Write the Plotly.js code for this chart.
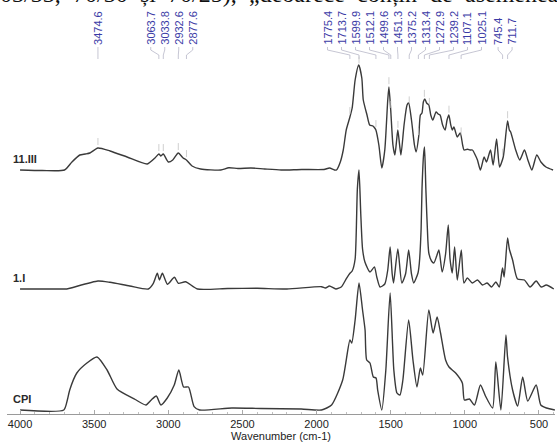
<!DOCTYPE html>
<html><head><meta charset="utf-8">
<script src="https://cdn.plot.ly/plotly-3.0.1.min.js"></script>
<style>html,body{margin:0;padding:0;background:#fff}#chart{width:557px;height:443px}</style>
</head><body><div id="chart"></div>
<script>
// ---------------- data ----------------
const wn_11III = [4000,3850,3700,3650,3597,3560,3529,3475,3393,3278,3142,3090,3064,3050,3034,3000,2970,2933,2900,2878,2840,2782,2646,2592,2530,2443,2350,2239,2100,1950,1913,1880,1866,1840,1820,1800,1777,1760,1740,1716,1695,1685,1660,1642,1620,1608,1600,1580,1560,1540,1520,1512,1500,1485,1472,1460,1452,1440,1431,1410,1390,1379,1360,1340,1329,1311,1300,1289,1280,1270,1258,1243,1230,1216,1194,1180,1167,1150,1133,1120,1108,1095,1085,1074,1051,1031,1015,1006,983,965,949,930,915,895,870,854,827,809,786,766,741,712,700,691,657,630,598,575,548,515,487,453,405];
const ab_11III = [0,-0.5,0,8,15,16,17,22,19,13,6,12,16,14,16,8,10,17,12,10,4,1,0,2.3,1.5,2,1,0,0.5,0.5,2,0,0,8,20,40,52,62,90,105,92,70,55,45,44,42,40,25,2,20,70,83,60,25,15,30,40,25,15,45,65,67,50,25,18,34,55,57,68,71,67,65,55,50,58,56,55,45,40,50,55,45,40,43,33,37,25,20,20.7,20,20,15,10,0,13,8,20,5,31,3,13,49,40,38,20,10,20,10,0,15,8,3,0];

const wn_1I = [4000,3700,3685,3475,3393,3260,3135,3101,3074,3060,3040,3006,2959,2932,2884,2803,2600,2400,2200,1967,1940,1913,1870,1832,1798,1775,1760,1740,1725,1714,1702,1690,1674,1640,1610,1594,1572,1540,1520,1504,1490,1481,1452,1425,1400,1379,1360,1345,1316,1307,1295,1289,1278,1272,1263,1250,1243,1225,1209,1190,1175,1153,1130,1112,1100,1085,1069,1051,1024,1006,983,950,915,881,850,820,791,768,746,735,712,700,678,645,598,560,519,485,451,400];
const ab_1I = [0,0,0,8,6.7,3,0,5.7,15.7,9,15.7,4.7,11.7,5.7,7.3,0,0.5,0.7,0,2.3,1,3,0,2.3,10.7,15.7,18,30,100,119,75,40,27,17,22,12,2,5,19,42,15,6,40,6,15,39,15,6,16,26,60,100,135,142,100,50,36,28,26,33,39,17,35,64,30,16,42,9,39,6,11,6,9,4,6,2,7,2,21,12,51,40,29,10,9,2,8,2,4,0];

const wn_CPI = [4000,3705,3681,3665,3617,3549,3481,3413,3346,3223,3151,3115,3081,3050,3007,2960,2929,2897,2864,2826,2789,2571,2375,2103,1967,1899,1824,1775,1763,1740,1714,1690,1673,1662,1640,1617,1599,1588,1560,1533,1504,1479,1458,1438,1418,1379,1350,1323,1300,1284,1243,1214,1187,1164,1130,1107,1062,1017,1003,969,935,895,861,813,791,757,723,712,678,644,610,576,519,488,450,393];
const ab_CPI = [0,0,10,20,37,47,53,40,21,10.5,5,10,14,5,12,25,40,23,23,3.4,0,2,1.5,1,0,5,30,70,67,90,127,100,80,50,47,33,32,20,0,40,117,40,17,15,30,90,50,23,42,35,100,77,93,77,50,43,37,27,10,11,5,25,14,2,48,0,75,53,20,4,33,9,25,5,2,0];

const sampleNames = ['11.III', '1.I', 'CPI'];
const sampleOffsets = [244, 125, 4];

const peakLabels = [3474.6, 3063.7, 3033.8, 2932.6, 2877.6, 1775.4, 1713.7, 1599.9, 1512.1, 1499.6, 1451.3, 1375.2, 1313.4, 1272.9, 1239.2, 1107.1, 1025.1, 745.4, 711.7];

const topWords = ['03/33,', '70/30', 'și', '70/25),', '„deoarece', 'conțin', 'de', 'asemenea'];

// ---------------- geometry helpers ----------------
const W = 557, H = 443;
const M = {l: 7, r: 2, t: 14, b: 29};
const XR = [4088, 392], YR = [0, 400];
const PW = W - M.l - M.r, PH = H - M.t - M.b;
const wnToPx = w => M.l + (XR[0] - w) / (XR[0] - XR[1]) * PW;
const pxToWn = p => XR[0] - (p - M.l) / PW * (XR[0] - XR[1]);
const pyToPaper = p => (H - M.b - p) / PH;
const pxToPaper = p => (p - M.l) / PW;

function interp(xs, ys, x) {
  for (let i = 0; i < xs.length - 1; i++) {
    const a = xs[i], b = xs[i + 1];
    if ((x <= a && x >= b) || (x >= a && x <= b)) {
      const t = (x - a) / (b - a);
      return ys[i] + t * (ys[i + 1] - ys[i]);
    }
  }
  return 0;
}

// spread labels so they don't overlap (cluster merge)
function spread(pxs, gap) {
  let cl = pxs.map(p => ({m: [p], c: p}));
  let changed = true;
  while (changed) {
    changed = false;
    for (let i = 0; i < cl.length - 1; i++) {
      const a = cl[i], b = cl[i + 1];
      const aEnd = a.c + (a.m.length - 1) * gap / 2;
      const bStart = b.c - (b.m.length - 1) * gap / 2;
      if (bStart - aEnd < gap) {
        const m = a.m.concat(b.m);
        cl.splice(i, 2, {m: m, c: m.reduce((s, v) => s + v, 0) / m.length});
        changed = true; break;
      }
    }
  }
  const out = [];
  cl.forEach(k => k.m.forEach((p, j) => out.push(k.c + (j - (k.m.length - 1) / 2) * gap)));
  return out;
}

// ---------------- traces ----------------
const series = [[wn_11III, ab_11III], [wn_1I, ab_1I], [wn_CPI, ab_CPI]];
const traces = series.map((s, i) => ({
  x: s[0],
  y: s[1].map(v => v + sampleOffsets[i]),
  type: 'scatter', mode: 'lines',
  line: {color: '#3a3a3a', width: 1.4, shape: 'spline', smoothing: 0.6},
  hoverinfo: 'skip', showlegend: false
}));

// ---------------- annotations & shapes ----------------
const annotations = [];
const shapes = [];

const peakPx = peakLabels.map(wnToPx);
const labPx = spread(peakPx, 14);
const labelBottom = 46;
peakLabels.forEach((p, i) => {
  annotations.push({
    xref: 'x', yref: 'paper', x: pxToWn(labPx[i]), y: pyToPaper(labelBottom),
    text: p.toFixed(1), textangle: -90, showarrow: false,
    xanchor: 'center', yanchor: 'bottom', borderpad: 0,
    font: {family: 'Arial, Liberation Sans, sans-serif', size: 11, color: '#3b3ba6'}
  });
  const yPap = v => pyToPaper(v);
  shapes.push({
    type: 'path', xref: 'x', yref: 'paper',
    path: `M ${pxToWn(labPx[i])} ${yPap(labelBottom + 1)} L ${pxToWn(labPx[i])} ${yPap(labelBottom + 4)} L ${p} ${yPap(labelBottom + 9)} L ${p} ${yPap(labelBottom + 13)}`,
    line: {color: '#b8b8c8', width: 0.8}
  });
  const top = interp(wn_11III, ab_11III, p) + sampleOffsets[0];
  shapes.push({
    type: 'line', xref: 'x', yref: 'y', x0: p, x1: p, y0: top + 3, y1: top + 10,
    line: {color: '#c4c4c4', width: 0.8}
  });
});

sampleNames.forEach((n, i) => {
  annotations.push({
    xref: 'paper', yref: 'y', x: pxToPaper(11), y: sampleOffsets[i] + 11,
    text: '<b>' + n + '</b>', showarrow: false, xanchor: 'left', yanchor: 'middle',
    font: {family: 'Arial, Liberation Sans, sans-serif', size: 11, color: '#2a2a2a'}
  });
});

// cut-off, justified line of document text at the very top
const topFont = {family: 'Liberation Serif, Times New Roman, serif', size: 24, color: '#111'};
const topY = 8;
const ctx = document.createElement('canvas').getContext('2d');
ctx.font = topFont.size + 'px "Liberation Serif"';
const widths = topWords.map(w => ctx.measureText(w).width);
const lineLeft = -1, lineRight = 557;
const gapW = (lineRight - lineLeft - widths.reduce((s, v) => s + v, 0)) / (topWords.length - 1);
let cursor = lineLeft;
topWords.forEach((w, i) => {
  annotations.push({
    xref: 'paper', yref: 'paper', x: pxToPaper(cursor), y: pyToPaper(topY),
    text: w, showarrow: false, xanchor: 'left', yanchor: 'bottom', borderpad: 0, font: topFont
  });
  cursor += widths[i] + gapW;
});

const layout = {
  width: W, height: H,
  margin: M,
  paper_bgcolor: '#fff', plot_bgcolor: '#fff',
  showlegend: false,
  xaxis: {
    range: XR, showgrid: false, zeroline: false,
    showline: true, linecolor: '#9a9a9a', linewidth: 1,
    ticks: 'inside', ticklen: 4, tickcolor: '#aaa', tickwidth: 1,
    tick0: 0, dtick: 500,
    tickfont: {family: 'Arial, Liberation Sans, sans-serif', size: 11, color: '#222'},
    minor: {dtick: 100, ticks: 'inside', ticklen: 2.5, tickcolor: '#c0c0c0', showgrid: false},
    title: {text: 'Wavenumber (cm-1)', standoff: 1, font: {family: 'Arial, Liberation Sans, sans-serif', size: 11, color: '#222'}}
  },
  yaxis: {range: YR, visible: false, fixedrange: true},
  annotations: annotations,
  shapes: shapes
};

Plotly.newPlot('chart', traces, layout, {displayModeBar: false, staticPlot: true});
</script>
</body></html>
